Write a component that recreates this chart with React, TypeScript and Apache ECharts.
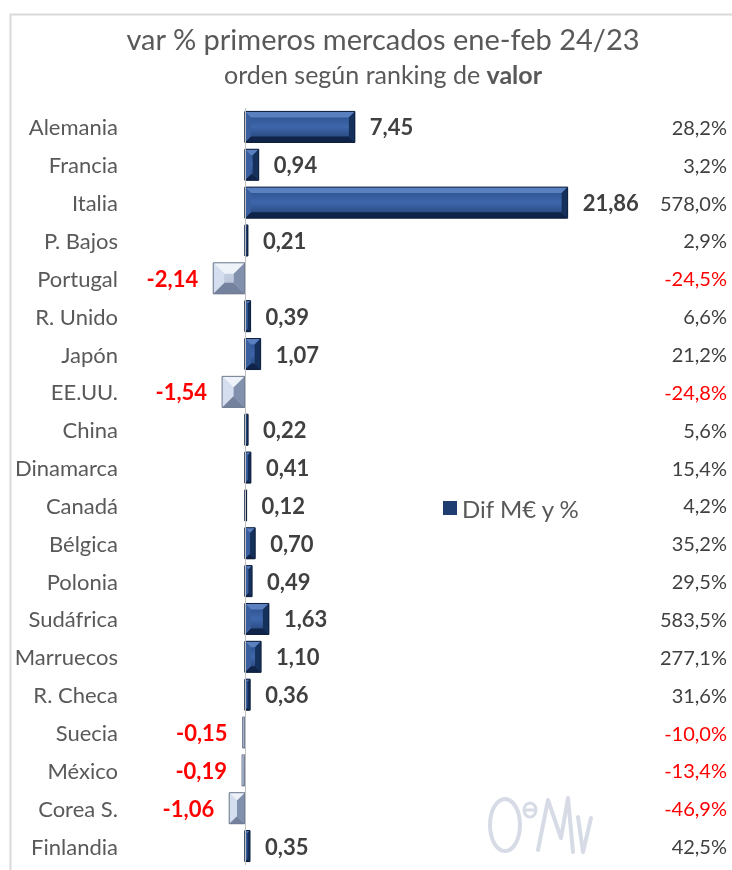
import React, { useEffect, useRef } from "react";
import * as echarts from "echarts";

const categories = ["Alemania","Francia","Italia","P. Bajos","Portugal","R. Unido","Japón","EE.UU.","China","Dinamarca","Canadá","Bélgica","Polonia","Sudáfrica","Marruecos","R. Checa","Suecia","México","Corea S.","Finlandia"];
const difValues = [7.45,0.94,21.86,0.21,-2.14,0.39,1.07,-1.54,0.22,0.41,0.12,0.70,0.49,1.63,1.10,0.36,-0.15,-0.19,-1.06,0.35];
const pctLabels = ["28,2%","3,2%","578,0%","2,9%","-24,5%","6,6%","21,2%","-24,8%","5,6%","15,4%","4,2%","35,2%","29,5%","583,5%","277,1%","31,6%","-10,0%","-13,4%","-46,9%","42,5%"];
const seriesName = "Dif M€ y %";
const titleText = "var % primeros mercados ene-feb 24/23";

const FONT = "Lato";

export default function App() {
  const ref = useRef<HTMLDivElement>(null);
  useEffect(() => {
    if (!ref.current) return;
    const chart = echarts.init(ref.current, null, { renderer: "svg" });
    const posFace = new echarts.graphic.LinearGradient(0, 0, 0, 1, [
      { offset: 0, color: "#2a4d8a" },
      { offset: 0.5, color: "#3e67ab" },
      { offset: 1, color: "#223e72" },
    ]);
    const negFace = new echarts.graphic.LinearGradient(0, 0, 0, 1, [
      { offset: 0, color: "#d0d9e9" },
      { offset: 1, color: "#aebbd2" },
    ]);
    const barData = difValues.map((v) => ({
      value: v,
      itemStyle: {
        color: v < 0 ? negFace : posFace,
        borderColor: v < 0 ? "#6f7b91" : "#10244a",
        borderWidth: 1,
      },
      label: {
        position: v < 0 ? "left" : "right",
        color: v < 0 ? "#ff0000" : "#404040",
      },
    }));
    const bevelData = difValues.map((v, i) => [v, i]);
    const option: any = {
      animation: false,
      textStyle: { fontFamily: FONT },
      grid: { left: 171, right: 118, top: 108, bottom: 5, containLabel: false },
      legend: {
        data: [{ name: seriesName, itemStyle: { color: "#1f3d70", borderColor: "#10244a" } }],
        left: 438,
        top: 491,
        icon: "rect",
        itemWidth: 14,
        itemHeight: 14,
        itemGap: 6,
        textStyle: { fontFamily: FONT, fontSize: 24, color: "#595959" },
      },
      xAxis: { type: "value", min: -5, max: 25, show: false },
      yAxis: [
        {
          type: "category",
          data: categories,
          inverse: true,
          axisLine: { show: false },
          axisTick: { show: false },
          axisLabel: { fontFamily: FONT, fontSize: 22, color: "#595959", margin: 53 },
        },
        {
          type: "category",
          data: pctLabels,
          inverse: true,
          position: "right",
          axisLine: { show: false },
          axisTick: { show: false },
          axisLabel: {
            align: "right",
            margin: 113,
            formatter: (val: string) => (val.startsWith("-") ? `{neg|${val}}` : `{pos|${val}}`),
            rich: {
              neg: { fontFamily: FONT, fontSize: 20, color: "#ff0000" },
              pos: { fontFamily: FONT, fontSize: 20, color: "#404040" },
            },
          },
        },
      ],
      series: [
        {
          name: seriesName,
          type: "bar",
          yAxisIndex: 0,
          data: barData,
          barCategoryGap: "18%",
          label: {
            show: true,
            distance: 15,
            fontFamily: FONT,
            fontSize: 22,
            fontWeight: "bold",
            formatter: (p: any) => p.value.toFixed(2).replace(".", ","),
          },
          markLine: {
            silent: true,
            symbol: "none",
            label: { show: false },
            lineStyle: { color: "#c0c0c0", width: 1, type: "solid" },
            data: [{ xAxis: 0 }],
          },
        },
        {
          name: "bevel",
          type: "custom",
          yAxisIndex: 0,
          silent: true,
          z: 3,
          data: bevelData,
          renderItem: (params: any, api: any) => {
            const v = api.value(0);
            const idx = api.value(1);
            const p0 = api.coord([0, idx]);
            const p1 = api.coord([v, idx]);
            const band = api.size([0, 1])[1];
            const h = band * 0.82;
            const x0 = Math.min(p0[0], p1[0]);
            const x1 = Math.max(p0[0], p1[0]);
            const yT = p0[1] - h / 2;
            const yB = p0[1] + h / 2;
            const w = x1 - x0;
            const neg = v < 0;
            const b = Math.min(neg ? 11 : 6, w / 2, h / 2);
            const c = neg
              ? { t: "#eef2f9", l: "#d5deee", r: "#8190ad", bt: "#74829e" }
              : { t: "#5a80c0", l: "#3a5f9f", r: "#16305c", bt: "#0f2448" };
            const poly = (pts: number[][], color: string) => ({
              type: "polygon",
              shape: { points: pts },
              style: { fill: color },
            });
            return {
              type: "group",
              children: [
                poly([[x0, yT], [x1, yT], [x1 - b, yT + b], [x0 + b, yT + b]], c.t),
                poly([[x0, yB], [x1, yB], [x1 - b, yB - b], [x0 + b, yB - b]], c.bt),
                poly([[x0, yT], [x0 + b, yT + b], [x0 + b, yB - b], [x0, yB]], c.l),
                poly([[x1, yT], [x1 - b, yT + b], [x1 - b, yB - b], [x1, yB]], c.r),
                {
                  type: "rect",
                  shape: { x: x0, y: yT, width: w, height: h },
                  style: { fill: "none", stroke: neg ? "#6f7b91" : "#0d1f3d", lineWidth: 1 },
                },
              ],
            };
          },
        },
      ],
      graphic: [
        {
          type: "rect",
          left: 8,
          top: 12,
          shape: { width: 740, height: 870 },
          style: { fill: "none", stroke: "#d9d9d9", lineWidth: 2 },
          silent: true,
        },
        {
          type: "text",
          x: 383,
          y: 38,
          style: { text: titleText, fontFamily: FONT, fontSize: 29, fill: "#595959", textAlign: "center", textVerticalAlign: "middle" },
        },
        {
          type: "text",
          x: 383,
          y: 74,
          style: {
            text: "{n|orden según ranking de }{b|valor}",
            textAlign: "center",
            textVerticalAlign: "middle",
            rich: {
              n: { fontFamily: FONT, fontSize: 25, fill: "#595959" },
              b: { fontFamily: FONT, fontSize: 25, fill: "#595959", fontWeight: "bold" },
            },
          },
        },
        {
          type: "group",
          silent: true,
          children: [
            { type: "ellipse", shape: { cx: 505, cy: 825, rx: 15, ry: 26 }, style: { fill: "none", stroke: "#d6dbe6", lineWidth: 4 } },
            { type: "ellipse", shape: { cx: 530, cy: 810, rx: 6, ry: 7 }, style: { fill: "none", stroke: "#d6dbe6", lineWidth: 3 } },
            { type: "line", shape: { x1: 524, y1: 810, x2: 536, y2: 810 }, style: { stroke: "#d6dbe6", lineWidth: 3 } },
            { type: "polyline", shape: { points: [[538, 850], [548, 800], [561, 838], [568, 798], [573, 852]] }, style: { fill: "none", stroke: "#d6dbe6", lineWidth: 4, lineCap: "round", lineJoin: "round" } },
            { type: "polyline", shape: { points: [[578, 817], [583, 852], [591, 818]] }, style: { fill: "none", stroke: "#d6dbe6", lineWidth: 4, lineCap: "round", lineJoin: "round" } },
          ],
        },
      ],
    };
    chart.setOption(option);
    return () => chart.dispose();
  }, []);
  return <div ref={ref} style={{ position: "fixed", left: 0, top: 0, width: 732, height: 870 }} />;
}
